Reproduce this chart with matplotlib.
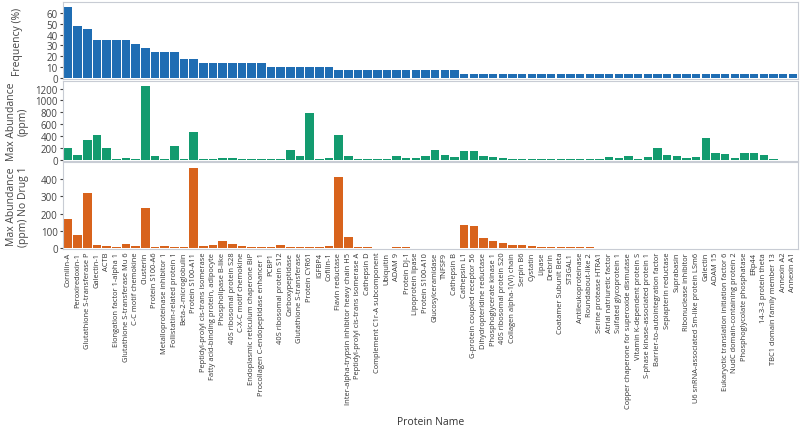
import matplotlib.pyplot as plt
import numpy as np

plt.rcParams['font.family'] = ['Open Sans', 'DejaVu Sans']

proteins = [
    "Cornilin-A", "Peroxiredoxin-1", "Glutathione S-transferase P", "Galectin-1", "ACTB",
    "Elongation factor 1-alpha 1", "Glutathione S-transferase Mu 6", "C-C motif chemokine",
    "Clusterin", "Protein S100-A6", "Metalloproteinase inhibitor 1", "Follistatin-related protein 1",
    "Beta-2-microglobulin", "Protein S100-A11", "Peptidyl-prolyl cis-trans isomerase",
    "Fatty acid-binding protein, adipocyte", "Phospholipase B-like", "40S ribosomal protein S28",
    "C-X-C motif chemokine", "Endoplasmic reticulum chaperone BiP",
    "Procollagen C-endopeptidase enhancer 1", "PCBP1", "40S ribosomal protein S12",
    "Carboxypeptidase", "Glutathione S-transferase", "Protein CYR61", "IGFBP4", "Cofilin-1",
    "Flavin reductase", "Inter-alpha-trypsin inhibitor heavy chain H5",
    "Peptidyl-prolyl cis-trans isomerase A", "Cathepsin D", "Complement C1r-A subcomponent",
    "Ubiquitin", "ADAM 9", "Protein DJ-1", "Lipoprotein lipase", "Protein S100-A10",
    "Glucosylceramidase", "TNFSF9", "Cathepsin B", "Cathepsin L1",
    "G-protein coupled receptor 56", "Dihydropteridine reductase", "Phosphoglycerate kinase 1",
    "40S ribosomal protein S20", "Collagen alpha-1(VI) chain", "Serpin B6", "Cystatin", "Lipase",
    "Drebrin", "Coatamer Subunit Beta", "ST3GAL1", "Antileukoproteinase", "Roundabout-like 2",
    "Serine protease HTRA1", "Atrial natriuretic factor", "Sulfated glycoprotein 1",
    "Copper chaperone for superoxide dismutase", "Vitamin K-dependent protein S",
    "S-phase kinase-associated protein 1", "Barrier-to-autointegration factor",
    "Sepiapterin reductase", "Suprabasin", "Ribonuclease inhibitor",
    "U6 snRNA-associated Sm-like protein LSm6", "Galectin", "ADAM 15",
    "Eukaryotic translation initiation factor 6", "NudC domain-containing protein 2",
    "Phosphoglycolate phosphatase", "ERp44", "14-3-3 protein theta",
    "TBC1 domain family member 13", "Annexin A2", "Annexin A1",
]

frequency = ([65.5, 48.3, 44.8] + [34.5] * 4 + [31.0, 27.6] + [24.1] * 3 + [17.2] * 2
             + [13.8] * 7 + [10.3] * 7 + [6.9] * 13 + [3.4] * 35)

max_abundance = [
    195, 82, 323, 416, 197, 5, 22, 10, 1240, 66,
    16, 230, 5, 471, 11, 16, 33, 22, 11, 5,
    16, 16, 11, 164, 60, 789, 5, 27, 416, 66,
    5, 3, 3, 3, 60, 20, 27, 55, 164, 82,
    38, 137, 137, 60, 38, 27, 16, 16, 5, 4,
    3, 3, 3, 3, 3, 3, 44, 27, 60, 16,
    44, 197, 71, 55, 27, 44, 361, 115, 99, 22,
    104, 104, 82, 10, 1, 1,
]

max_abundance_no_drug = [
    167, 73, 321, 15, 13, 8, 23, 12, 235, 8,
    13, 5, 5, 467, 12, 17, 38, 25, 12, 5,
    5, 5, 15, 8, 3, 3, 3, 13, 413, 63,
    5, 5, 2, 2, 5, 8, 2, 1, 1, 1,
    1, 133, 129, 60, 42, 27, 17, 17, 12, 8,
    6, 5, 4, 3, 3, 2, 2, 0, 0, 0,
    0, 0, 0, 0, 0, 0, 0, 0, 0, 0,
    0, 0, 0, 0, 0, 0,
]

panels = [
    (frequency, "#1f6db3", "Frequency (%)", (-1.2, 70), np.arange(0, 61, 10)),
    (max_abundance, "#139b6f", "Max Abundance\n(ppm)", (-18, 1330), np.arange(0, 1201, 200)),
    (max_abundance_no_drug, "#d8631c", "Max Abundance\n(ppm) No Drug 1", (-6, 500), np.arange(0, 401, 100)),
]

boxes = [
    [0.079, 0.814, 0.918, 0.179],
    [0.079, 0.625, 0.918, 0.185],
    [0.079, 0.420, 0.918, 0.202],
]

fig = plt.figure(figsize=(8, 4.31), dpi=100)
x = np.arange(len(proteins))

for (vals, color, label, ylim, ticks), box in zip(panels, boxes):
    ax = fig.add_axes(box)
    ax.bar(x, vals, width=0.88, color=color)
    ax.set_xlim(-0.5, len(proteins) - 0.5)
    ax.set_ylim(*ylim)
    ax.set_yticks(ticks)
    ax.tick_params(axis='y', labelsize=7, colors='#444444', length=2, pad=2)
    lab = ax.set_ylabel(label, fontsize=7.5, color='#444444', linespacing=1.05)
    lab.set_verticalalignment('center')
    ax.yaxis.set_label_coords(-0.062, 0.5)
    for s in ax.spines.values():
        s.set_color('#c8ccd4')
        s.set_linewidth(0.8)
    if box is boxes[-1]:
        ax.set_xticks(x)
        ax.set_xticklabels(proteins, rotation=90, fontsize=5.4, color='#333333')
        ax.tick_params(axis='x', length=0, pad=2)
        ax.set_xlabel("Protein Name", fontsize=7.5, color='#333333', labelpad=6)
    else:
        ax.set_xticks([])

fig.savefig("out.png", dpi=100)
